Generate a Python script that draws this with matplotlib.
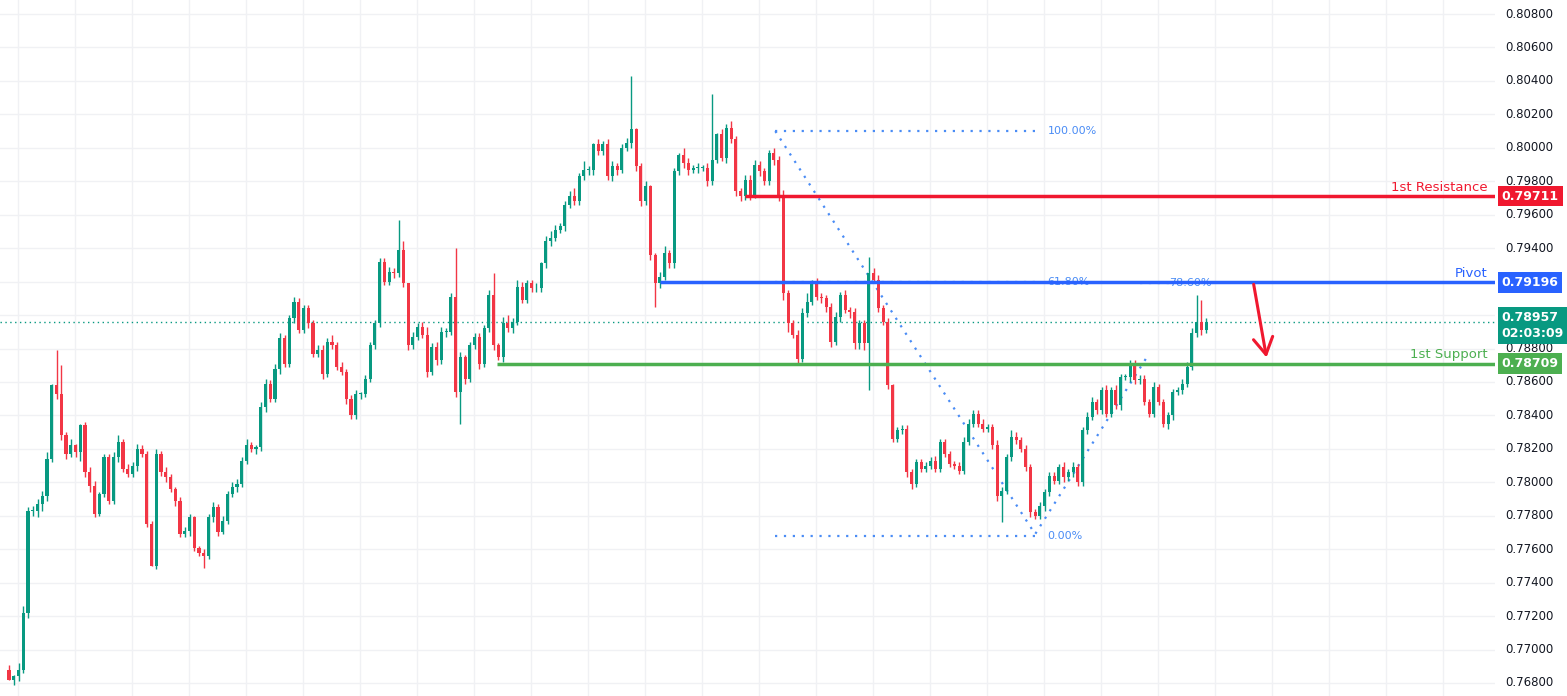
import numpy as np
import matplotlib
matplotlib.use("Agg")
from matplotlib import pyplot as plt
from matplotlib.patches import Rectangle

# close prices, one per candle
closes = [
    .7682, .7684, .7688, .7722, .7783, .7783, .7787, .7792, .7814, .7858,
    .7853, .7828, .7817, .7822, .7818, .7834, .7806, .7798, .7781, .7793,
    .7815, .7789, .7815, .7824, .7808, .7805, .7810, .7820, .7817, .7775,
    .7750, .7817, .7806, .7803, .7796, .7789, .7769, .7771, .7779, .7761,
    .7758, .7756, .7779, .7785, .7770, .7777, .7793, .7797, .7799, .7813,
    .7822, .7820, .7821, .7845, .7859, .7850, .7868, .7886, .7871, .7898,
    .7908, .7891, .7904, .7895, .7877, .7879, .7865, .7884, .7882, .7869,
    .7866, .7850, .7840, .7853, .7853, .7862, .7882, .7895, .7932, .7920,
    .7926, .7925, .7939, .7919, .7882, .7887, .7893, .7888, .7866, .7881,
    .7873, .7890, .7890, .7911, .7854, .7875, .7862, .7882, .7887, .7871,
    .7892, .7912, .7882, .7875, .7895, .7892, .7896, .7917, .7909, .7919,
    .7916, .7916, .7931, .7944, .7946, .7951, .7953, .7966, .7971, .7968,
    .7983, .7987, .7987, .8002, .7998, .8002, .7983, .7989, .7987, .8000,
    .8003, .8011, .7989, .7968, .7977, .7936, .7919, .7923, .7937, .7931,
    .7986, .7996, .7991, .7987, .7988, .7988, .7988, .7980, .7993, .8008,
    .7994, .8012, .8005, .7974, .7971, .7981, .7972, .7990, .7986, .7980,
    .7997, .7993, .7971, .7913, .7895, .7888, .7874, .7901, .7908, .7919,
    .7911, .7910, .7905, .7884, .7899, .7912, .7903, .7902, .7883, .7895,
    .7883, .7925, .7921, .7904, .7896, .7858, .7826, .7831, .7832, .7806,
    .7799, .7812, .7808, .7810, .7813, .7808, .7824, .7817, .7811, .7810,
    .7807, .7824, .7835, .7841, .7835, .7832, .7833, .7822, .7792, .7795,
    .7815, .7827, .7825, .7820, .7809, .7782, .7780, .7786, .7794, .7804,
    .7801, .7809, .7803, .7806, .7809, .7800, .7831, .7839, .7848, .7843,
    .7855, .7841, .7855, .7846, .7863, .7863, .7871, .7861, .7862, .7848,
    .7841, .7857, .7848, .7835, .7840, .7854, .7855, .7859, .7869, .7889,
    .7896, .7891, .7896,
]
first_open = 0.7688

# wick lengths above/below the body, in units of 0.0001
wick_up = [
    3, 1, 4, 4, 2, 3, 3, 3, 4, 1,
    21, 17, 2, 4, 1, 1, 2, 3, 3, 1,
    2, 2, 3, 4, 2, 3, 2, 3, 2, 2,
    2, 3, 2, 3, 2, 1, 2, 2, 2, 1,
    1, 2, 2, 3, 2, 3, 2, 3, 3, 2,
    4, 2, 1, 3, 3, 2, 3, 3, 2, 2,
    3, 2, 2, 2, 2, 3, 3, 2, 4, 2,
    3, 2, 2, 2, 1, 2, 2, 2, 2, 2,
    3, 2, 18, 5, 0, 3, 2, 3, 5, 2,
    3, 3, 2, 2, 29, 3, 1, 2, 2, 2,
    2, 3, 13, 1, 4, 5, 2, 4, 3, 2,
    2, 3, 1, 3, 4, 3, 2, 2, 3, 5,
    2, 5, 2, 1, 3, 2, 3, 3, 2, 2,
    3, 32, 1, 2, 3, 1, 1, 3, 4, 2,
    2, 1, 4, 3, 2, 3, 2, 3, 39, 1,
    3, 2, 4, 2, 2, 3, 3, 3, 2, 2,
    2, 3, 2, 4, 2, 2, 3, 3, 5, 2,
    3, 2, 2, 2, 3, 2, 3, 2, 2, 2,
    2, 10, 3, 3, 2, 2, 1, 2, 2, 2,
    2, 2, 2, 2, 2, 3, 2, 2, 2, 2,
    2, 3, 3, 2, 2, 3, 2, 2, 3, 2,
    2, 4, 3, 2, 2, 2, 2, 2, 2, 2,
    2, 2, 3, 2, 3, 2, 2, 3, 3, 2,
    2, 3, 2, 3, 2, 2, 2, 2, 2, 2,
    2, 3, 2, 2, 2, 2, 2, 3, 3, 3,
    16, 13, 2,
]
wick_dn = [
    0, 3, 3, 2, 3, 3, 4, 4, 3, 2,
    3, 3, 3, 2, 3, 5, 3, 4, 2, 1,
    2, 2, 2, 3, 2, 2, 2, 3, 2, 2,
    0, 2, 2, 3, 2, 3, 2, 2, 3, 2,
    2, 7, 2, 3, 2, 1, 2, 2, 3, 2,
    2, 2, 3, 2, 3, 2, 2, 3, 2, 2,
    3, 2, 2, 3, 2, 2, 3, 2, 2, 2,
    2, 3, 2, 2, 3, 2, 2, 2, 2, 2,
    2, 3, 2, 2, 3, 2, 2, 2, 3, 2,
    3, 2, 3, 2, 3, 19, 3, 2, 2, 3,
    2, 2, 3, 2, 3, 2, 3, 2, 2, 2,
    2, 2, 2, 3, 3, 2, 2, 3, 2, 2,
    2, 2, 3, 3, 2, 2, 2, 3, 3, 2,
    2, 3, 3, 3, 2, 3, 14, 3, 2, 3,
    3, 2, 3, 3, 2, 3, 2, 3, 2, 2,
    2, 3, 2, 3, 3, 2, 3, 2, 3, 2,
    2, 3, 3, 4, 5, 2, 3, 2, 2, 2,
    2, 3, 3, 3, 2, 3, 2, 4, 3, 3,
    4, 28, 2, 2, 2, 2, 2, 2, 2, 3,
    3, 2, 2, 2, 2, 2, 2, 2, 2, 2,
    2, 2, 2, 2, 2, 2, 2, 2, 3, 16,
    2, 2, 2, 2, 2, 3, 2, 2, 3, 2,
    2, 2, 3, 2, 3, 2, 2, 2, 2, 2,
    2, 2, 2, 2, 3, 2, 3, 2, 2, 2,
    2, 2, 2, 2, 3, 3, 2, 2, 2, 2,
    2, 3, 2,
]

resistance = 0.79711
pivot = 0.79196
support = 0.78709
last_price = 0.78957
countdown = "02:03:09"
fib_high, fib_low = 0.8010, 0.7768
fib_levels = [("100.00%", 0.8010), ("61.80%", 0.79196), ("0.00%", 0.7768)]
yticks = np.round(np.arange(0.7680, 0.80801, 0.0020), 4)

GREEN = "#089981"
RED = "#f23645"
BLUE = "#2962ff"
LVL_RED = "#f0182f"
LVL_GREEN = "#4caf50"
FIBC = "#4a8cf5"

fig = plt.figure(figsize=(15.67, 6.96), dpi=100)
ax = fig.add_axes([0, 0, 1495 / 1567, 1])
ax.set_xlim(-1.9, 312.8)
ax.set_ylim(0.76722, 0.80884)

for t in yticks:
    ax.axhline(t, color="#f0f1f4", lw=1, zorder=0)
for xv in np.arange(1.9, 313, 12):
    ax.axvline(xv, color="#f0f1f4", lw=1, zorder=0)

opens = [first_open] + closes[:-1]
for i, (o, c) in enumerate(zip(opens, closes)):
    col = GREEN if c >= o else RED
    hi = max(o, c) + wick_up[i] * 1e-4
    lo = min(o, c) - wick_dn[i] * 1e-4
    ax.vlines(i, lo, hi, color=col, lw=1, zorder=3)
    h = max(abs(c - o), 0.00004)
    ax.add_patch(Rectangle((i - 0.33, min(o, c)), 0.66, h, color=col, lw=0, zorder=3))

# current price line
ax.axhline(last_price, color=GREEN, lw=1, ls=(0, (1, 2.5)), zorder=2)

# fib retracement
x0, x1 = 161.3, 217
ax.hlines([fib_high, fib_low], x0, x1, color=FIBC, lw=1.6, ls=(0, (1, 3)), zorder=2)
ax.hlines(pivot - 0.00001, x0, x1, color=FIBC, lw=1.6, ls=(0, (1, 3)), zorder=2)
ax.hlines(pivot - 0.00003, 238, 245, color=FIBC, lw=1.6, ls=(0, (1, 3)), zorder=2)
for lab, lv in fib_levels:
    ax.text(x1 + 1.6, lv, lab, color=FIBC, fontsize=8, va="center", ha="left", zorder=2)
ax.text(244.3, pivot - 0.00003, "78.60%", color=FIBC, fontsize=8, va="center", ha="left", zorder=2)
ax.plot([x0, 216, 240], [fib_high, 0.7769, 0.7877], color=FIBC, lw=1.6,
        ls=(0, (1, 3)), zorder=2)

# support / resistance levels
ax.hlines(resistance, 155, 312.8, color=LVL_RED, lw=2.5, zorder=4)
ax.hlines(pivot, 137, 312.8, color=BLUE, lw=2.5, zorder=4)
ax.hlines(support, 102.7, 312.8, color=LVL_GREEN, lw=2.5, zorder=4)
ax.text(311.2, resistance + 0.00014, "1st Resistance", color=LVL_RED, fontsize=9.5,
        ha="right", va="bottom")
ax.text(311.2, pivot + 0.00014, "Pivot", color=BLUE, fontsize=9.5, ha="right", va="bottom")
ax.text(311.2, support + 0.00014, "1st Support", color=LVL_GREEN, fontsize=9.5,
        ha="right", va="bottom")

ax.annotate("", xy=(264.8, 0.7873), xytext=(261.9, 0.7920),
            arrowprops=dict(arrowstyle="->,head_length=1.2,head_width=0.7",
                            color=LVL_RED, lw=2.2), zorder=5)

for s in ax.spines.values():
    s.set_visible(False)
ax.set_xticks([])
ax.set_yticks([])

# right price scale
ytr = ax.get_yaxis_transform()
sx = 1505 / 1495
for t in yticks:
    ax.text(sx, t, f"{t:.5f}", transform=ytr, fontsize=8.5,
            color="#131722", va="center", ha="left", clip_on=False, zorder=1)
for val, col in [(resistance, LVL_RED), (pivot, BLUE), (support, LVL_GREEN)]:
    ax.text(1.0045, val, f"{val:.5f}", transform=ytr, fontsize=9,
            color="white", fontweight="bold", va="center", ha="left", clip_on=False,
            zorder=6, bbox=dict(boxstyle="square,pad=0.3", fc=col, ec="none"))
ax.text(1.0045, last_price - 0.00020, f"{last_price:.5f}\n{countdown}",
        transform=ytr, fontsize=9, color="white",
        fontweight="bold", va="center", ha="left", clip_on=False, linespacing=1.3,
        zorder=6, bbox=dict(boxstyle="square,pad=0.3", fc=GREEN, ec="none"))

fig.savefig("out.png", dpi=100)
